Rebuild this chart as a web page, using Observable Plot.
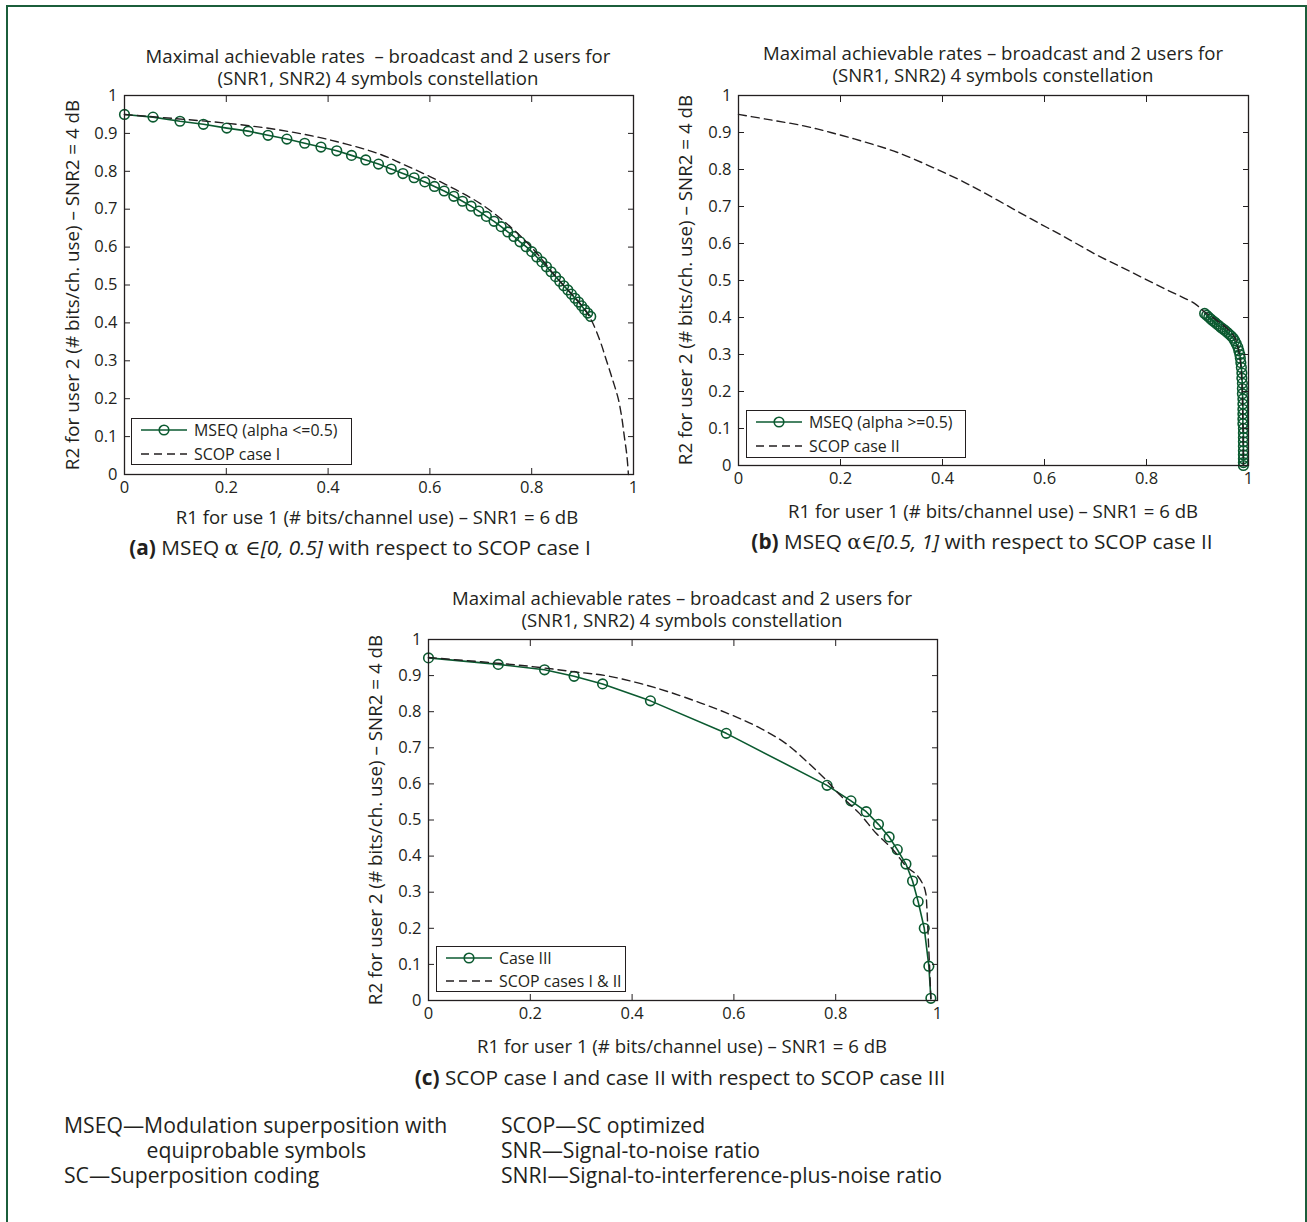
<!DOCTYPE html>
<html>
<head>
<meta charset="utf-8">
<script src="https://cdn.jsdelivr.net/npm/d3@7"></script>
<script src="https://cdn.jsdelivr.net/npm/@observablehq/plot@0.6"></script>
<style>
  html, body { margin: 0; padding: 0; background: #fff; }
  #page { position: relative; width: 1307px; height: 1222px; overflow: hidden; font-family: "Open Sans", "Noto Sans", sans-serif; color: #231f20; background: #fff; }
  #border { position: absolute; left: 6px; top: 5px; width: 1297px; height: 1300px; border: 2px solid #1b5e3b; border-bottom: none; }
  .t { position: absolute; white-space: pre; }
  .panel { position: absolute; }
  .lg { position: absolute; border: 1px solid #231f20; background: #fff; box-sizing: border-box; }
  .lg .row { position: absolute; left: 0; white-space: pre; font-size: 15.9px; }
  .lg svg { position: absolute; }
  .sym { font-family: "DejaVu Serif", "Liberation Serif", serif; font-style: normal; }
</style>
</head>
<body>
<div id="page"><div id="border"></div></div>
<script>
// ---------------- DATA ----------------
const xTicks = [0, 0.2, 0.4, 0.6, 0.8, 1];
const yTicks = [0, 0.1, 0.2, 0.3, 0.4, 0.5, 0.6, 0.7, 0.8, 0.9, 1];

// Panel (a): MSEQ alpha <= 0.5
const mseqA_R1 = [0, 0.056, 0.109, 0.155, 0.201, 0.243, 0.282, 0.319, 0.354, 0.386, 0.417, 0.446, 0.474, 0.499, 0.524, 0.547, 0.569, 0.590, 0.609, 0.628, 0.647, 0.664, 0.681, 0.696, 0.711, 0.726, 0.740, 0.753, 0.765, 0.777, 0.789, 0.800, 0.810, 0.820, 0.829, 0.838, 0.847, 0.855, 0.863, 0.871, 0.878, 0.885, 0.892, 0.898, 0.904, 0.910, 0.916];
const mseqA_R2 = [0.950, 0.943, 0.932, 0.924, 0.914, 0.906, 0.895, 0.885, 0.874, 0.864, 0.854, 0.842, 0.830, 0.819, 0.806, 0.794, 0.783, 0.772, 0.760, 0.748, 0.734, 0.721, 0.708, 0.695, 0.681, 0.668, 0.654, 0.640, 0.628, 0.614, 0.601, 0.588, 0.574, 0.561, 0.548, 0.535, 0.522, 0.510, 0.498, 0.487, 0.476, 0.465, 0.455, 0.445, 0.435, 0.426, 0.417];
// Panel (a): SCOP case I
const scopI_R1 = [0, 0.1, 0.2, 0.3, 0.4, 0.5, 0.55, 0.6, 0.65, 0.7, 0.75, 0.8, 0.85, 0.9, 0.918, 0.935, 0.947, 0.959, 0.970, 0.977, 0.982, 0.987, 0.99];
const scopI_R2 = [0.950, 0.939, 0.927, 0.910, 0.884, 0.846, 0.817, 0.786, 0.752, 0.714, 0.663, 0.599, 0.518, 0.443, 0.405, 0.350, 0.300, 0.250, 0.200, 0.150, 0.100, 0.050, 0];

// Panel (b): MSEQ alpha >= 0.5
const mseqB_R1 = [0.914, 0.918, 0.922, 0.926, 0.930, 0.934, 0.938, 0.942, 0.946, 0.950, 0.954, 0.958, 0.962, 0.966, 0.970, 0.973, 0.976, 0.979, 0.981, 0.983, 0.984, 0.985, 0.986, 0.987, 0.987, 0.988, 0.988, 0.988, 0.989, 0.989, 0.989, 0.989, 0.989, 0.989, 0.990, 0.990, 0.990, 0.990, 0.990, 0.990, 0.990, 0.990, 0.990, 0.990];
const mseqB_R2 = [0.411, 0.406, 0.401, 0.396, 0.391, 0.387, 0.382, 0.378, 0.373, 0.369, 0.365, 0.360, 0.355, 0.350, 0.344, 0.337, 0.329, 0.320, 0.310, 0.300, 0.290, 0.278, 0.265, 0.250, 0.236, 0.222, 0.208, 0.194, 0.180, 0.166, 0.152, 0.139, 0.126, 0.113, 0.100, 0.088, 0.076, 0.064, 0.052, 0.040, 0.029, 0.018, 0.008, 0];
// Panel (b): SCOP case II
const scopII_R1 = [0, 0.063, 0.128, 0.181, 0.246, 0.312, 0.377, 0.442, 0.508, 0.573, 0.639, 0.704, 0.770, 0.835, 0.894, 0.914, 0.940, 0.962, 0.975, 0.982, 0.986, 0.988, 0.989, 0.99];
const scopII_R2 = [0.949, 0.934, 0.918, 0.900, 0.875, 0.846, 0.808, 0.766, 0.717, 0.667, 0.618, 0.568, 0.523, 0.478, 0.438, 0.415, 0.390, 0.365, 0.340, 0.300, 0.250, 0.180, 0.100, 0];

// Panel (c): Case III
const case3_R1 = [0, 0.137, 0.228, 0.286, 0.342, 0.436, 0.585, 0.783, 0.830, 0.860, 0.884, 0.905, 0.921, 0.938, 0.951, 0.962, 0.974, 0.983, 0.987];
const case3_R2 = [0.949, 0.931, 0.916, 0.898, 0.877, 0.830, 0.740, 0.596, 0.553, 0.523, 0.488, 0.453, 0.418, 0.378, 0.331, 0.274, 0.200, 0.095, 0.006];
// Panel (c): SCOP cases I & II
const scopI_II_R1 = [0, 0.184, 0.29, 0.356, 0.449, 0.535, 0.595, 0.648, 0.701, 0.747, 0.781, 0.810, 0.846, 0.879, 0.913, 0.939, 0.959, 0.972, 0.977, 0.979, 0.982, 0.985, 0.987];
const scopI_II_R2 = [0.950, 0.928, 0.910, 0.898, 0.865, 0.824, 0.791, 0.757, 0.713, 0.657, 0.611, 0.567, 0.519, 0.464, 0.417, 0.371, 0.348, 0.320, 0.297, 0.260, 0.168, 0.076, 0];

// Texts
const titleLine1 = ["Maximal achievable rates  \u2013 broadcast and 2 users for", "Maximal achievable rates \u2013 broadcast and 2 users for", "Maximal achievable rates \u2013 broadcast and 2 users for"];
const titleLine2 = "(SNR1, SNR2) 4 symbols constellation";
const xLabels = ["R1 for use 1 (# bits/channel use) \u2013 SNR1 = 6 dB", "R1 for user 1 (# bits/channel use) \u2013 SNR1 = 6 dB", "R1 for user 1 (# bits/channel use) \u2013 SNR1 = 6 dB"];
const yLabel = "R2 for user 2 (# bits/ch. use) \u2013 SNR2 = 4 dB";
const legendLabels = [["MSEQ (alpha <=0.5)", "SCOP case I"], ["MSEQ (alpha >=0.5)", "SCOP case II"], ["Case III", "SCOP cases I & II"]];
const captions = [
  '<b>(a)</b> MSEQ <span class="sym">\u03b1 \u2208</span><i>[0, 0.5]</i> with respect to SCOP case I',
  '<b>(b)</b> MSEQ <span class="sym">\u03b1\u2208</span><i>[0.5, 1]</i> with respect to SCOP case II',
  '<b>(c)</b> SCOP case I and case II with respect to SCOP case III'
];
const glossLeft = ["MSEQ\u2014Modulation superposition with", "equiprobable symbols", "SC\u2014Superposition coding"];
const glossRight = ["SCOP\u2014SC optimized", "SNR\u2014Signal-to-noise ratio", "SNRI\u2014Signal-to-interference-plus-noise ratio"];

// ---------------- DRAWING ----------------
const GREEN = "#0b5a30";
const INK = "#231f20";
const page = document.getElementById("page");
const fmt = d3.format("~g");
const zip = (xs, ys) => xs.map((x, i) => ({x, y: ys[i]}));
const esc = s => s.replace(/&/g, "&amp;").replace(/</g, "&lt;");

// one text element; several lines with a fixed line pitch; y = centre of first line
function block(htmlLines, x, y, size, pitch, anchor = "middle") {
  const d = document.createElement("div");
  d.className = "t";
  d.innerHTML = htmlLines.join("\n");
  d.style.cssText = `left:${x}px;top:${y - pitch / 2}px;font-size:${size}px;line-height:${pitch}px;text-align:${anchor === "middle" ? "center" : "left"};`;
  if (anchor === "middle") d.style.transform = "translateX(-50%)";
  page.appendChild(d);
  return d;
}
function vtxt(text, x, y, size) {
  const d = document.createElement("div");
  d.className = "t";
  d.textContent = text;
  d.style.cssText = `left:${x}px;top:${y}px;font-size:${size}px;line-height:${size * 1.15}px;transform:translate(-50%,-50%) rotate(-90deg);`;
  page.appendChild(d);
}

function panel({fx0, fy0, fw, fh, solid, dashed}) {
  const mL = 60, mT = 10, mR = 12, mB = 34;
  const svg = Plot.plot({
    width: fw + mL + mR,
    height: fh + mT + mB,
    marginLeft: mL, marginRight: mR, marginTop: mT, marginBottom: mB,
    x: {domain: [0, 1]},
    y: {domain: [0, 1]},
    style: {fontFamily: "'Open Sans', 'Noto Sans', sans-serif", fontSize: "16.5px", color: INK, background: "transparent", overflow: "visible"},
    marks: [
      Plot.line(solid, {x: "x", y: "y", stroke: GREEN, strokeWidth: 1.6}),
      Plot.dot(solid, {x: "x", y: "y", r: 4.8, stroke: GREEN, strokeWidth: 1.6, fill: "none"}),
      Plot.line(dashed, {x: "x", y: "y", stroke: INK, strokeWidth: 1.4, strokeDasharray: "8,5", curve: "catmull-rom"}),
      Plot.frame({stroke: INK, strokeWidth: 1.3}),
      Plot.axisX(xTicks, {anchor: "bottom", tickSize: 0, tickPadding: 7, tickFormat: fmt, label: null}),
      Plot.axisY(yTicks, {anchor: "left", tickSize: 0, tickPadding: 7, tickFormat: fmt, label: null}),
      Plot.axisX(xTicks, {anchor: "bottom", tickSize: 6, dy: -6, fill: "none", stroke: INK, label: null}),
      Plot.axisX(xTicks, {anchor: "top", tickSize: 6, dy: 6, fill: "none", stroke: INK, label: null}),
      Plot.axisY(yTicks, {anchor: "left", tickSize: 6, dx: 6, fill: "none", stroke: INK, label: null}),
      Plot.axisY(yTicks, {anchor: "right", tickSize: 6, dx: -6, fill: "none", stroke: INK, label: null})
    ]
  });
  svg.classList.add("panel");
  svg.style.left = (fx0 - mL) + "px";
  svg.style.top = (fy0 - mT) + "px";
  page.appendChild(svg);
}

function legend(x, y, w, h, rowYs, labels) {
  const box = document.createElement("div");
  box.className = "lg";
  box.style.cssText = `left:${x}px;top:${y}px;width:${w}px;height:${h}px;`;
  labels.forEach((lab, i) => {
    const cy = rowYs[i] - y;
    const s = d3.create("svg").attr("width", 50).attr("height", 14)
      .style("left", "8px").style("top", (cy - 7) + "px");
    if (i === 0) {
      s.append("line").attr("x1", 1).attr("x2", 47).attr("y1", 7).attr("y2", 7).attr("stroke", GREEN).attr("stroke-width", 1.6);
      s.append("circle").attr("cx", 24).attr("cy", 7).attr("r", 4.8).attr("fill", "none").attr("stroke", GREEN).attr("stroke-width", 1.6);
    } else {
      s.append("line").attr("x1", 1).attr("x2", 47).attr("y1", 7).attr("y2", 7).attr("stroke", INK).attr("stroke-width", 1.4).attr("stroke-dasharray", "8,5");
    }
    box.appendChild(s.node());
    const r = document.createElement("div");
    r.className = "row";
    r.textContent = lab;
    r.style.cssText += `left:62px;top:${cy - 10}px;line-height:20px;`;
    box.appendChild(r);
  });
  page.appendChild(box);
}

// Panel (a)
panel({fx0: 124, fy0: 95, fw: 509, fh: 379, solid: zip(mseqA_R1, mseqA_R2), dashed: zip(scopI_R1, scopI_R2)});
// Panel (b)
panel({fx0: 738, fy0: 95, fw: 510, fh: 370, solid: zip(mseqB_R1, mseqB_R2), dashed: zip(scopII_R1, scopII_R2)});
// Panel (c)
panel({fx0: 428, fy0: 639, fw: 509, fh: 361, solid: zip(case3_R1, case3_R2), dashed: zip(scopI_II_R1, scopI_II_R2)});

// Titles (two lines in one element)
const TS = 18.6;
block([titleLine1[0], titleLine2], 378, 56, TS, 22);
block([titleLine1[1], titleLine2], 993, 53, TS, 22);
block([titleLine1[2], titleLine2], 682, 598, TS, 22);
// X labels
block([xLabels[0]], 377, 517, TS, 22);
block([xLabels[1]], 993, 511, TS, 22);
block([xLabels[2]], 682, 1046, TS, 22);
// Y labels
vtxt(yLabel, 73, 285, 18.8);
vtxt(yLabel, 686, 280, 18.8);
vtxt(yLabel, 376, 820, 18.8);
// Captions
block([captions[0]], 360, 547, 20.8, 24);
block([captions[1]], 982, 541, 20.8, 24);
block([captions[2]], 680, 1077, 20.8, 24);
// Legends
legend(131, 418, 221, 47, [429, 453], legendLabels[0]);
legend(746, 410, 220, 48, [421, 445], legendLabels[1]);
legend(436, 946, 190, 46, [957, 980], legendLabels[2]);
// Glossary (one plain text element per column; continuation line indented with spaces)
const indent = " ".repeat(15);
block(glossLeft.map((g, i) => esc(i === 1 ? indent + g : g)), 64, 1124, 21.2, 25, "start");
block(glossRight.map(esc), 501, 1124, 21.2, 25, "start");
</script>
</body>
</html>
